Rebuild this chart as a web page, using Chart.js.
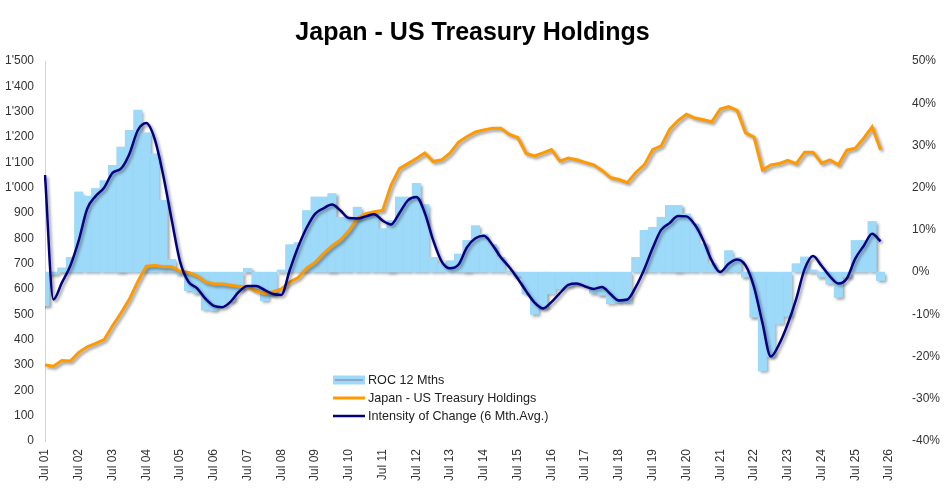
<!DOCTYPE html>
<html>
<head>
<meta charset="utf-8">
<script src="https://cdn.jsdelivr.net/npm/chart.js@4.4.1/dist/chart.umd.min.js"></script>
<style>
  html, body { margin: 0; padding: 0; background: #fff; }
  #wrap { width: 945px; height: 493px; position: relative; }
</style>
</head>
<body>
<div id="wrap"><canvas id="myChart"></canvas></div>
<script>
// quarterly points, Jul 01 .. Apr 26 (axis runs to Jul 26)
var years = ['01','02','03','04','05','06','07','08','09','10','11','12','13',
             '14','15','16','17','18','19','20','21','22','23','24','25','26'];
var months = ['Jul', 'Oct', 'Jan', 'Apr'];

// Japan - US Treasury Holdings (USD bn, left axis)
var holdings = [
  300, 295, 318, 316, 350, 372, 385, 400, 455, 505,
  560, 630, 690, 693, 688, 688, 670, 665, 652, 628,
  620, 620, 615, 610, 610, 592, 582, 589, 600, 628,
  645, 682, 705, 740, 770, 793, 830, 879, 897, 905,
  910, 1010, 1075, 1095, 1115, 1137, 1103, 1110, 1137, 1180,
  1202, 1220, 1228, 1235, 1235, 1210, 1198, 1135, 1125, 1137,
  1150, 1105, 1117, 1110, 1100, 1090, 1068, 1040, 1032, 1020,
  1060, 1090, 1150, 1165, 1230, 1265, 1290, 1275, 1268, 1260,
  1310, 1320, 1305, 1216, 1200, 1070, 1090, 1095, 1108, 1095,
  1140, 1140, 1097, 1110, 1090, 1148, 1156, 1195, 1240, 1150
];

// ROC 12 Mths (%, right axis)
var roc12 = [
  -8, -0.5, 1, 3.5, 19, 18, 19.8, 21.7, 25.3, 29.6,
  33.6, 38.4, 33, 28, 17, 3, -0.5, -4.4, -5, -9,
  -9.1, -8, -7, -4.5, 0.9, -4, -6.8, -5.5, 0.5, 6.5,
  7, 14.6, 17.8, 17.8, 18.6, 13, 13, 15.4, 13.8, 13.8,
  10.3, 12.2, 17.8, 17.8, 21, 16, 3.5, 2, 2.7, 4.3,
  7.5, 11, 9, 6.5, 3.5, 0.3, -1, -5.2, -10, -8.5,
  -5.2, -4, -3.5, -3, -3, -5, -5.5, -7.5, -7.3, -7.3,
  3.5, 9.9, 10.6, 13, 15.8, 15.8, 13.8, 11.4, 6.7, 2,
  0, 5.1, 3.5, -1.2, -10.7, -23.4, -20, -12.3, -10.5, 2,
  3.6, 0.5, -1.2, -2.8, -6, -1.2, 7.5, 7.5, 12, -2
];

// Intensity of Change (6 Mth.Avg.) (%, right axis)
var intensity = [
  23, -6.5, -2.5, 1.5, 7.5, 15, 18, 20, 23.5, 24.5,
  28, 33.6, 35.3, 31.5, 23, 12.5, 2.5, -2.3, -3.8, -6.3,
  -8, -8.3, -7, -4.6, -3.3, -3.3, -4.2, -5.2, -5.4, 0.5,
  6, 10.5, 13.8, 15.1, 16, 14.6, 12.8, 12.7, 13.2, 13.7,
  12.2, 11.3, 14, 17, 17.8, 14, 7.5, 2.5, 0.9, 1.8,
  5.9, 8, 8.6, 6.5, 3.5, 1.2, -1.5, -4.5, -7.2, -8.6,
  -7.1, -5, -3, -2.7, -3.4, -4, -3.5, -5.2, -6.7, -6.5,
  -3.5, 0.7, 5.7, 10, 11.6, 13.3, 13.2, 11.2, 7.5, 2.7,
  0, 2, 3, 1.6, -3.5, -12, -20, -17, -12.3, -6.4,
  0.7, 3.8, 1.5, -1, -2.7, -1.5, 3.2, 6.2, 9.1, 7.3
];

var labels = [];
for (var i = 0; i < years.length; i++) {
  for (var m = 0; m < months.length; m++) {
    var yr = m < 2 ? years[i] : years[i + 1];
    labels.push(months[m] + ' ' + yr);
    if (i == years.length - 1) break;
  }
}

var FONT = "'Liberation Sans', Arial, sans-serif";

var shadow = {
  id: 'shadow',
  beforeDatasetDraw: function (chart) {
    var ctx = chart.ctx;
    ctx.save();
    ctx.shadowColor = 'rgba(0,0,0,0.4)';
    ctx.shadowBlur = 3;
    ctx.shadowOffsetX = 2;
    ctx.shadowOffsetY = 2;
  },
  afterDatasetDraw: function (chart) {
    chart.ctx.restore();
  }
};

// legend sits inside the plot, below the curves
var boxLegend = {
  id: 'boxLegend',
  afterDraw: function (chart) {
    var ctx = chart.ctx;
    var ds = chart.data.datasets;
    var x = 333, rows = [380, 398, 416];
    ctx.save();
    ctx.font = '12.6px ' + FONT;
    ctx.textBaseline = 'middle';
    // ROC swatch: filled box with line
    ctx.fillStyle = ds[0].backgroundColor;
    ctx.fillRect(x, rows[0] - 4.5, 32, 9);
    ctx.strokeStyle = '#8fa6c6';
    ctx.lineWidth = 2;
    ctx.beginPath(); ctx.moveTo(x + 2, rows[0]); ctx.lineTo(x + 30, rows[0]); ctx.stroke();
    ctx.lineWidth = 3;
    ctx.strokeStyle = ds[1].borderColor;
    ctx.beginPath(); ctx.moveTo(x, rows[1]); ctx.lineTo(x + 32, rows[1]); ctx.stroke();
    ctx.lineWidth = 2.5;
    ctx.strokeStyle = ds[2].borderColor;
    ctx.beginPath(); ctx.moveTo(x, rows[2]); ctx.lineTo(x + 32, rows[2]); ctx.stroke();
    ctx.fillStyle = '#222';
    for (var k = 0; k < 3; k++) ctx.fillText(ds[k].label, x + 35, rows[k] + 1);
    ctx.restore();
  }
};

var ctx = document.getElementById('myChart').getContext('2d');

var myChart = new Chart(ctx, {
  type: 'bar',
  data: {
    labels: labels,
    datasets: [{
      type: 'bar',
      label: 'ROC 12 Mths',
      data: roc12,
      yAxisID: 'y2',
      backgroundColor: '#9dd9f9',
      borderWidth: 0,
      barPercentage: 1,
      categoryPercentage: 1,
      order: 3
    }, {
      type: 'line',
      label: 'Japan - US Treasury Holdings',
      data: holdings,
      yAxisID: 'y',
      borderColor: '#ff9900',
      borderWidth: 3,
      pointRadius: 0,
      tension: 0,
      order: 2
    }, {
      type: 'line',
      label: 'Intensity of Change (6 Mth.Avg.)',
      data: intensity,
      yAxisID: 'y2',
      borderColor: '#000080',
      borderWidth: 2.5,
      pointRadius: 0,
      cubicInterpolationMode: 'monotone',
      order: 1
    }]
  },
  options: {
    responsive: true,
    maintainAspectRatio: false,
    animation: false,
    layout: { padding: 0 },
    plugins: {
      legend: { display: false },
      tooltip: { enabled: false },
      title: {
        display: true,
        text: 'Japan - US Treasury Holdings',
        color: '#000',
        font: { family: FONT, size: 25, weight: 'bold' },
        padding: { top: 18, bottom: 13 }
      }
    },
    scales: {
      x: {
        offset: false,
        grid: { display: false, drawTicks: false },
        border: { display: false },
        afterFit: function (s) { s.height = 52; },
        ticks: {
          autoSkip: false,
          maxRotation: 90,
          minRotation: 90,
          padding: 8,
          color: '#333',
          font: { family: FONT, size: 12 },
          callback: function (v, i) {
            return i % 4 == 0 ? this.getLabelForValue(v) : null;
          }
        }
      },
      y: {
        position: 'left',
        min: 0,
        max: 1500,
        grid: { display: false, drawTicks: false },
        border: { display: true, color: '#d4d4d4', width: 1 },
        afterFit: function (s) { s.width = 45; },
        ticks: {
          stepSize: 100,
          padding: 11,
          color: '#333',
          font: { family: FONT, size: 12 },
          callback: function (v) {
            if (v >= 1000) {
              var r = String(v % 1000);
              while (r.length < 3) r = '0' + r;
              return Math.floor(v / 1000) + "'" + r;
            }
            return String(v);
          }
        }
      },
      y2: {
        position: 'right',
        min: -40,
        max: 50,
        grid: { display: false, drawTicks: false },
        border: { display: false },
        afterFit: function (s) { s.width = 56; },
        ticks: {
          stepSize: 10,
          padding: 23,
          color: '#333',
          font: { family: FONT, size: 12 },
          callback: function (v) { return v + '%'; }
        }
      }
    }
  },
  plugins: [shadow, boxLegend]
});
</script>
</body>
</html>
